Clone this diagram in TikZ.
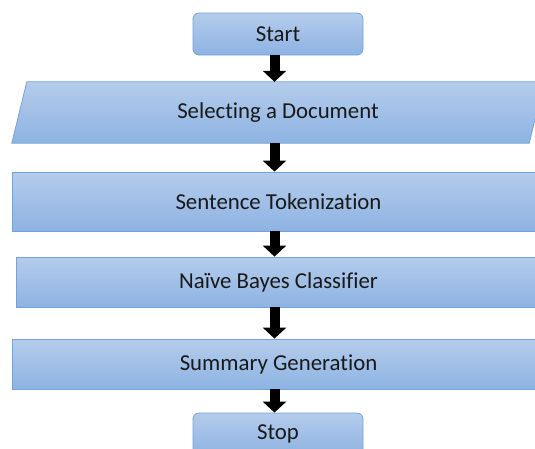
\documentclass[tikz,border=0pt]{standalone}
\usepackage{fontspec}
\setmainfont{Carlito}[Ligatures={NoCommon}]
\usetikzlibrary{arrows.meta}
\definecolor{boxtop}{RGB}{181,204,235}
\definecolor{boxbot}{RGB}{141,179,227}
\definecolor{boxline}{RGB}{116,162,218}
\definecolor{inktext}{RGB}{25,25,25}
\tikzset{
  boxfill/.style={draw=boxline, line width=0.8pt, top color=boxtop, bottom color=boxbot},
  boxtext/.style={text=inktext, font=\fontsize{22.8}{26}\selectfont, inner sep=0pt},
  box/.style={boxfill, boxtext},
  term/.style={box, rectangle, rounded corners=6pt, minimum width=170pt, minimum height=42pt},
  stepbox/.style={box, rectangle},
  flow/.style={line width=10pt, -{Triangle[width=23pt,length=11pt]}}
}
\begin{document}
\begin{tikzpicture}[x=1pt,y=-1pt]
  \useasboundingbox (0,0) rectangle (535,448);
  \clip (0,0) rectangle (535,448);

  \node[term] (start) at (278,34) {Start};

  % input step: slanted box drawn round an unframed text node
  \node[boxtext, rectangle, minimum width=517pt, minimum height=61pt] (sel) at (278,112.5) {\phantom{Selecting a Document}};
  \path[boxfill] ([xshift=7.5pt]sel.north west) -- ([xshift=7.5pt]sel.north east)
    -- ([xshift=-7.5pt]sel.south east) -- ([xshift=-7.5pt]sel.south west) -- cycle;
  \node[boxtext] at (sel.center) {Selecting a Document};

  \node[stepbox, minimum width=533pt, minimum height=59pt] (tok) at (278.5,201.5) {Sentence Tokenization};
  \node[stepbox, minimum width=525pt, minimum height=50pt] (nb) at (278.5,282) {Naïve Bayes Classifier};
  \node[stepbox, minimum width=533pt, minimum height=50pt] (sum) at (278.5,364) {Summary Generation};
  \node[term] (stop) at (278,434) {Stop};

  \draw[flow] ([xshift=-3.5pt]start.south) -- ([xshift=-3.5pt]start.south |- sel.north);
  \draw[flow] ([xshift=-3.5pt]start.south |- sel.south) -- ([xshift=-3.5pt]start.south |- tok.north);
  \draw[flow] ([xshift=-3.5pt]start.south |- tok.south) -- ([xshift=-3.5pt]start.south |- nb.north);
  \draw[flow] ([xshift=-3.5pt]start.south |- nb.south) -- ([xshift=-3.5pt]start.south |- sum.north);
  \draw[flow] ([xshift=-3.5pt]start.south |- sum.south) -- ([xshift=-3.5pt]stop.north);
\end{tikzpicture}
\end{document}
